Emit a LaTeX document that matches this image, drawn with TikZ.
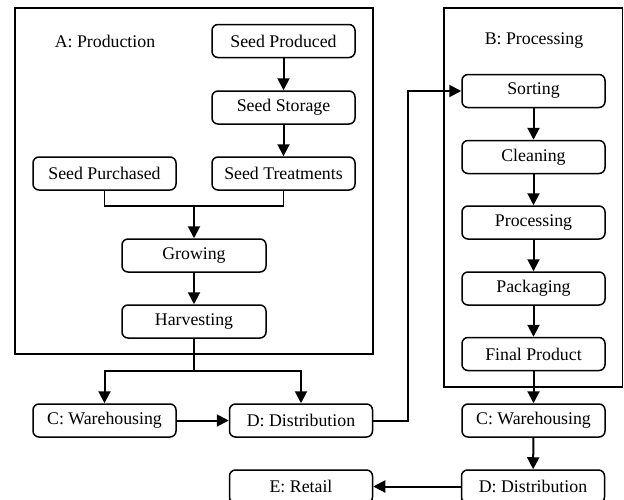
\documentclass[tikz,border=0pt]{standalone}
\usepackage{fontspec}
\setmainfont{Liberation Serif}
\usetikzlibrary{arrows.meta}
\begin{document}
\begin{tikzpicture}[x=1pt,y=-1pt,
 box/.style={draw, line width=1.5pt, rounded corners=6pt, minimum width=143pt, minimum height=33pt, inner sep=0pt, font=\fontsize{17.8}{20}\selectfont},
 frame/.style={draw, line width=1.5pt},
 lab/.style={font=\fontsize{17.8}{20}\selectfont, inner sep=0pt},
 arr/.style={line width=2pt, -{Triangle[length=12pt,width=12pt]}},
 ln/.style={line width=1.6pt}]
\useasboundingbox (0,0) rectangle (624,499);
\draw[frame] (15,8) rectangle (373,354);
\draw[frame] (444,8) rectangle (622.5,387);
\node[lab] (la) at (105,41) {A: Production};
\node[lab] (lb) at (534,41) {B: Processing};
\node[box] (sp) at (283.5,41) {Seed Produced};
\node[box] (ss) at (283.5,107.5) {Seed Storage};
\node[box] (st) at (283.5,173.5) {Seed Treatments};
\node[box] (spu) at (104.5,173.5) {Seed Purchased};
\node[box, minimum width=144pt] (gr) at (194,255.5) {Growing};
\node[box, minimum width=144pt] (hv) at (194,321.5) {Harvesting};
\node[box] (cw) at (104.5,420.5) {C: Warehousing};
\node[box] (dd) at (301,420.5) {D: Distribution};
\node[box] (so) at (533.5,91) {Sorting};
\node[box] (cl) at (533.5,157) {Cleaning};
\node[box] (pr) at (533.5,222.5) {Processing};
\node[box] (pk) at (533.5,288.5) {Packaging};
\node[box] (fp) at (533.5,354) {Final Product};
\node[box] (cw2) at (533.5,420.5) {C: Warehousing};
\node[box] (dd2) at (533,486.5) {D: Distribution};
\node[box] (er) at (301,486.5) {E: Retail};
\coordinate (j1) at (194,206);
\coordinate (j2) at (194,371);
\coordinate (j3) at (408,420.5);
\draw[arr] (sp) -- (ss);
\draw[arr] (ss) -- (st);
\draw[ln] (spu.south) -- (spu.south |- j1) -- (st.south |- j1) -- (st.south);
\draw[arr] (j1) -- (gr.north);
\draw[arr] (gr) -- (hv);
\draw[ln] (hv.south) -- (j2);
\draw[arr] (j2) -| (cw.north);
\draw[arr] (j2) -| (dd.north);
\draw[arr] (cw) -- (dd);
\draw[arr] (dd.east) -- (j3) |- (so.west);
\draw[arr] (so) -- (cl);
\draw[arr] (cl) -- (pr);
\draw[arr] (pr) -- (pk);
\draw[arr] (pk) -- (fp);
\draw[arr] (fp) -- (cw2);
\draw[arr] (cw2) -- (dd2);
\draw[arr] (dd2) -- (er);
\end{tikzpicture}
\end{document}
